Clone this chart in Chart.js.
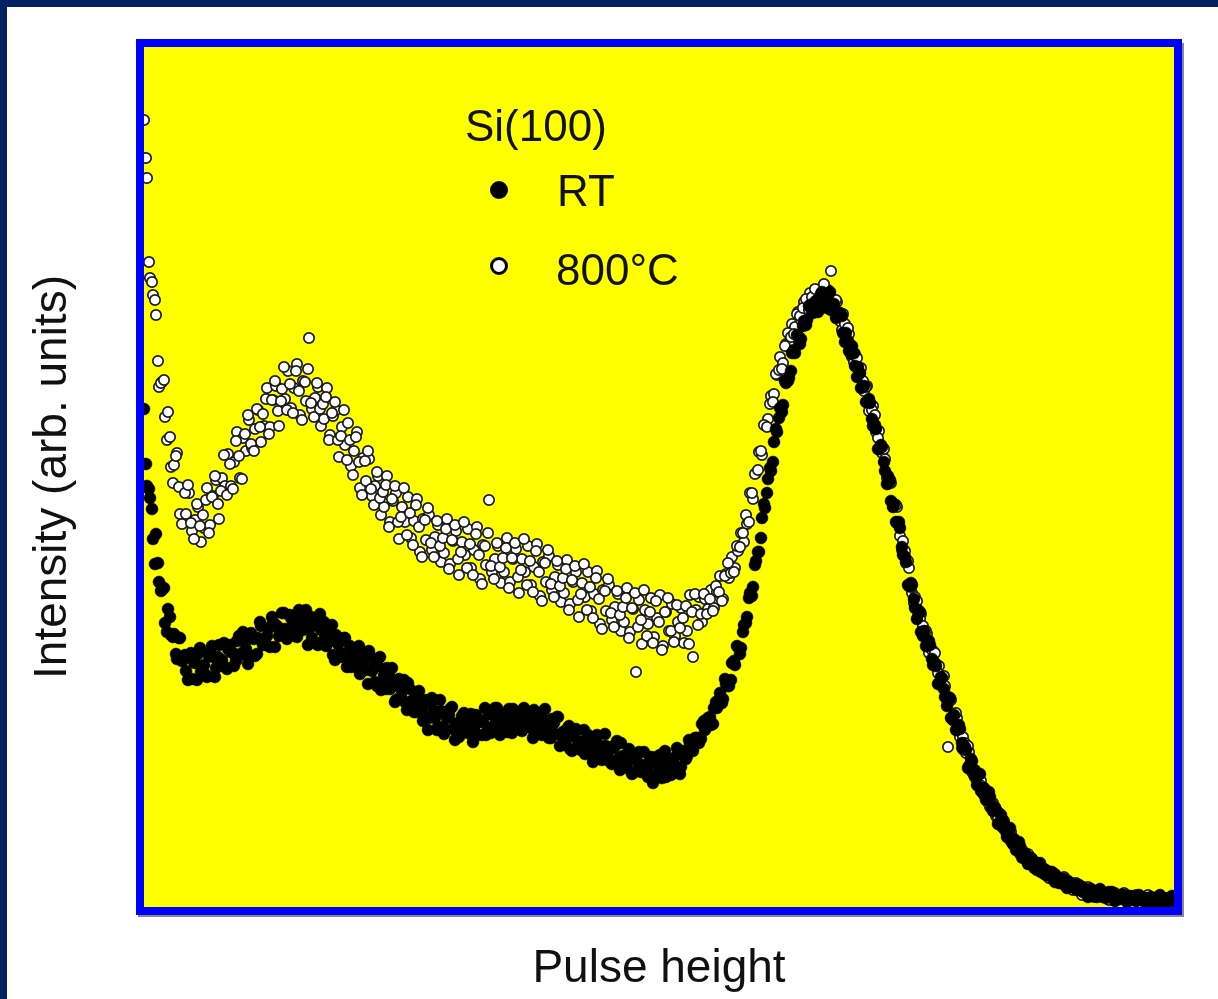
<!DOCTYPE html>
<html>
<head>
<meta charset="utf-8">
<script src="https://cdn.jsdelivr.net/npm/chart.js@4.4.1/dist/chart.umd.min.js"></script>
<style>
  html, body { margin: 0; padding: 0; background: #fff; overflow: hidden; }
  #wrap { position: relative; width: 1218px; height: 999px; }
</style>
</head>
<body>
<div id="wrap"><canvas id="chart" width="1218" height="999"></canvas></div>
<script>
// Pulse-height spectra of Si(100), RT vs 800 C.
// x = channel, y = intensity in arbitrary units (0 at the bottom of the frame).
// Two interleaved channel sets (A and B) so the noisy bands fill in like the original.
const channels = [
  0, 3, 6, 9, 12, 15, 18, 21, 24, 27, 30, 33, 36, 39, 42, 45, 48, 51, 54, 57,
  60, 63, 66, 69, 72, 75, 78, 81, 84, 87, 90, 93, 96, 99, 102, 105, 108, 111, 114, 117,
  120, 123, 126, 129, 132, 135, 138, 141, 144, 147, 150, 153, 156, 159, 162, 165, 168, 171, 174, 177,
  180, 183, 186, 189, 192, 195, 198, 201, 204, 207, 210, 213, 216, 219, 222, 225, 228, 231, 234, 237,
  240, 243, 246, 249, 252, 255, 258, 261, 264, 267, 270, 273, 276, 279, 282, 285, 288, 291, 294, 297,
  300, 303, 306, 309, 312, 315, 318, 321, 324, 327, 330, 333, 336, 339, 342, 345, 348, 351, 354, 357,
  360, 363, 366, 369, 372, 375, 378, 381, 384, 387, 390, 393, 396, 399, 402, 405, 408, 411, 414, 417,
  420, 423, 426, 429, 432, 435, 438, 441, 444, 447, 450, 453, 456, 459, 462, 465, 468, 471, 474, 477,
  480, 483, 486, 489, 492, 495, 498, 501, 504, 507, 510, 513, 516, 519, 522, 525, 528, 531, 534, 537,
  540, 543, 546, 549, 552, 555, 558, 561, 564, 567, 570, 573, 576, 579, 582, 585, 588, 591, 594, 597,
  600, 603, 606, 609, 612, 615, 618, 621, 624, 627, 630, 633, 636, 639, 642, 645, 648, 651, 654, 657,
  660, 663, 666, 669, 672, 675, 678, 681, 684, 687, 690, 693, 696, 699, 702, 705, 708, 711, 714, 717,
  720, 723, 726, 729, 732, 735, 738, 741, 744, 747, 750, 753, 756, 759, 762, 765, 768, 771, 774, 777,
  780, 783, 786, 789, 792, 795, 798, 801, 804, 807, 810, 813, 816, 819, 822, 825, 828, 831, 834, 837,
  840, 843, 846, 849, 852, 855, 858, 861, 864, 867, 870, 873, 876, 879, 882, 885, 888, 891, 894, 897,
  900, 903, 906, 909, 912, 915, 918, 921, 924, 927, 930, 933, 936, 939, 942, 945, 948, 951, 954, 957,
  960, 963, 966, 969, 972, 975, 978, 981, 984, 987, 990, 993, 996, 999, 1002, 1005, 1008, 1011, 1014, 1017,
  1020, 1023, 1026, 1029,
]

const channelsB = [
  2, 5, 8, 11, 14, 17, 20, 23, 26, 29, 32, 35, 38, 41, 44, 47, 50, 53, 56, 59,
  62, 65, 68, 71, 74, 77, 80, 83, 86, 89, 92, 95, 98, 101, 104, 107, 110, 113, 116, 119,
  122, 125, 128, 131, 134, 137, 140, 143, 146, 149, 152, 155, 158, 161, 164, 167, 170, 173, 176, 179,
  182, 185, 188, 191, 194, 197, 200, 203, 206, 209, 212, 215, 218, 221, 224, 227, 230, 233, 236, 239,
  242, 245, 248, 251, 254, 257, 260, 263, 266, 269, 272, 275, 278, 281, 284, 287, 290, 293, 296, 299,
  302, 305, 308, 311, 314, 317, 320, 323, 326, 329, 332, 335, 338, 341, 344, 347, 350, 353, 356, 359,
  362, 365, 368, 371, 374, 377, 380, 383, 386, 389, 392, 395, 398, 401, 404, 407, 410, 413, 416, 419,
  422, 425, 428, 431, 434, 437, 440, 443, 446, 449, 452, 455, 458, 461, 464, 467, 470, 473, 476, 479,
  482, 485, 488, 491, 494, 497, 500, 503, 506, 509, 512, 515, 518, 521, 524, 527, 530, 533, 536, 539,
  542, 545, 548, 551, 554, 557, 560, 563, 566, 569, 572, 575, 578, 581, 584, 587, 590, 593, 596, 599,
  602, 605, 608, 611, 614, 617, 620, 623, 626, 629, 632, 635, 638, 641, 644, 647, 650, 653, 656, 659,
  662, 665, 668, 671, 674, 677, 680, 683, 686, 689, 692, 695, 698, 701, 704, 707, 710, 713, 716, 719,
  722, 725, 728, 731, 734, 737, 740, 743, 746, 749, 752, 755, 758, 761, 764, 767, 770, 773, 776, 779,
  782, 785, 788, 791, 794, 797, 800, 803, 806, 809, 812, 815, 818, 821, 824, 827, 830, 833, 836, 839,
  842, 845, 848, 851, 854, 857, 860, 863, 866, 869, 872, 875, 878, 881, 884, 887, 890, 893, 896, 899,
  902, 905, 908, 911, 914, 917, 920, 923, 926, 929, 932, 935, 938, 941, 944, 947, 950, 953, 956, 959,
  962, 965, 968, 971, 974, 977, 980, 983, 986, 989, 992, 995, 998, 1001, 1004, 1007, 1010, 1013, 1016, 1019,
  1022, 1025, 1028,
]

const rtCounts = [
  498, 421, 409, 368, 373, 325, 317, 284, 298, 272, 273, 248, 269, 247, 236, 252, 228, 244, 253, 235,
  242, 230, 254, 250, 239, 262, 247, 240, 258, 255, 241, 266, 252, 275, 258, 252, 271, 251, 269, 281,
  264, 271, 260, 285, 282, 271, 294, 278, 271, 289, 285, 270, 293, 277, 297, 278, 269, 285, 262, 277,
  285, 263, 267, 252, 272, 265, 250, 269, 250, 240, 256, 250, 233, 254, 237, 256, 236, 225, 241, 217,
  232, 239, 218, 222, 207, 228, 220, 205, 224, 205, 195, 209, 203, 186, 207, 189, 209, 189, 180, 196,
  173, 189, 198, 178, 183, 170, 191, 185, 174, 193, 178, 172, 187, 185, 172, 193, 180, 199, 183, 177,
  193, 175, 190, 198, 182, 187, 176, 195, 190, 179, 197, 181, 174, 188, 183, 169, 188, 173, 190, 172,
  164, 178, 158, 172, 178, 161, 165, 153, 172, 166, 154, 172, 156, 148, 161, 157, 143, 162, 148, 164,
  147, 139, 154, 134, 148, 155, 138, 142, 130, 150, 144, 133, 152, 137, 130, 146, 144, 135, 153, 140,
  156, 151, 163, 156, 169, 164, 183, 177, 189, 182, 199, 199, 214, 208, 223, 221, 244, 242, 260, 259,
  282, 290, 314, 320, 346, 355, 389, 399, 428, 436, 465, 475, 499, 502, 524, 529, 554, 554, 571, 568,
  586, 587, 602, 594, 606, 600, 615, 604, 611, 597, 603, 591, 594, 574, 574, 556, 561, 541, 540, 519,
  521, 505, 504, 481, 478, 458, 460, 436, 431, 406, 403, 384, 379, 352, 345, 321, 322, 299, 297, 275,
  276, 261, 262, 242, 241, 224, 229, 210, 210, 189, 192, 177, 178, 158, 157, 141, 146, 130, 132, 116,
  119, 108, 110, 96, 97, 84, 88, 77, 79, 66, 68, 58, 61, 50, 52, 44, 48, 40, 43, 35,
  38, 32, 35, 28, 31, 24, 28, 22, 26, 20, 23, 17, 21, 15, 18, 13, 17, 12, 15, 11,
  14, 11, 13, 9, 11, 8, 12, 8, 11, 7, 10, 7, 10, 6, 9, 7, 9, 6, 8, 5,
  8, 6, 8, 6,
]

const rtCountsB = [
  443, 418, 398, 343, 344, 316, 319, 275, 290, 270, 253, 269, 246, 252, 227, 254, 245, 227, 259, 235,
  232, 251, 261, 230, 250, 244, 264, 238, 262, 254, 246, 271, 254, 265, 243, 274, 268, 253, 285, 262,
  262, 279, 290, 260, 280, 275, 294, 268, 292, 283, 274, 297, 278, 286, 262, 290, 282, 263, 293, 266,
  261, 275, 282, 247, 263, 254, 269, 240, 261, 250, 240, 261, 241, 248, 223, 250, 240, 221, 250, 223,
  218, 232, 239, 205, 221, 211, 227, 197, 218, 207, 195, 216, 196, 203, 177, 204, 196, 177, 207, 180,
  177, 192, 200, 167, 184, 177, 194, 178, 186, 165, 192, 185, 172, 199, 178, 174, 191, 199, 172, 188,
  182, 198, 174, 195, 187, 179, 199, 183, 191, 169, 194, 187, 172, 198, 174, 169, 184, 190, 161, 175,
  167, 181, 156, 176, 166, 157, 177, 160, 167, 145, 170, 162, 147, 173, 149, 144, 159, 166, 137, 151,
  143, 158, 133, 153, 144, 135, 155, 138, 146, 124, 150, 143, 129, 156, 135, 132, 149, 159, 133, 152,
  148, 167, 158, 169, 169, 168, 186, 181, 190, 183, 205, 207, 204, 228, 221, 227, 246, 261, 253, 275,
  284, 309, 311, 342, 355, 369, 403, 414, 439, 445, 478, 489, 495, 526, 526, 536, 557, 572, 563, 581,
  582, 601, 596, 605, 595, 613, 609, 599, 615, 597, 589, 593, 591, 565, 566, 553, 554, 530, 534, 520,
  505, 508, 488, 482, 458, 462, 445, 423, 427, 400, 385, 385, 360, 350, 322, 324, 308, 288, 295, 271,
  261, 266, 248, 244, 223, 230, 218, 201, 209, 187, 177, 182, 164, 160, 139, 148, 137, 122, 133, 114,
  107, 115, 100, 99, 83, 92, 83, 70, 79, 63, 57, 65, 52, 53, 43, 49, 44, 37, 44, 35,
  32, 35, 35, 25, 28, 24, 28, 19, 24, 21, 18, 22, 16, 17, 10, 18, 15, 10, 18, 10,
  9, 15, 15, 6, 10, 9, 12, 5, 11, 9, 6, 12, 7, 9, 3, 10, 8, 4, 12, 5,
  4, 9, 11,
]

const hotCounts = [
  787, 729, 629, 612, 592, 520, 525, 490, 495, 440, 442, 454, 393, 419, 393, 414, 376, 387, 400, 365,
  379, 419, 382, 411, 427, 388, 429, 421, 453, 421, 445, 475, 429, 469, 456, 487, 459, 478, 497, 465,
  481, 519, 480, 507, 521, 481, 518, 508, 536, 499, 519, 543, 492, 526, 506, 569, 498, 509, 520, 481,
  488, 519, 472, 491, 497, 450, 480, 462, 484, 441, 456, 475, 419, 449, 426, 448, 411, 421, 431, 392,
  400, 431, 385, 406, 414, 368, 400, 385, 410, 369, 386, 408, 355, 388, 367, 392, 357, 370, 382, 345,
  354, 388, 343, 366, 376, 332, 365, 352, 378, 339, 357, 380, 328, 362, 342, 407, 335, 348, 361, 324,
  335, 369, 325, 348, 358, 314, 348, 335, 361, 322, 340, 363, 311, 345, 325, 351, 317, 330, 342, 305,
  314, 347, 303, 325, 335, 290, 324, 310, 335, 296, 313, 336, 283, 317, 296, 322, 287, 300, 313, 276,
  285, 319, 275, 298, 235, 307, 263, 297, 283, 309, 270, 289, 312, 261, 295, 276, 303, 271, 285, 299,
  264, 276, 312, 250, 297, 310, 285, 308, 298, 317, 299, 315, 331, 308, 333, 329, 350, 339, 356, 374,
  365, 383, 414, 408, 434, 455, 452, 482, 488, 511, 513, 532, 550, 544, 563, 563, 583, 580, 595, 587,
  605, 602, 614, 603, 615, 608, 619, 606, 617, 636, 600, 605, 586, 593, 573, 573, 550, 553, 538, 539,
  516, 521, 498, 501, 475, 476, 454, 448, 423, 424, 402, 400, 371, 366, 344, 339, 314, 310, 291, 293,
  275, 273, 254, 256, 240, 241, 221, 221, 160, 207, 189, 189, 170, 170, 154, 155, 135, 137, 124, 126,
  112, 113, 100, 104, 91, 94, 80, 82, 70, 75, 62, 64, 53, 56, 48, 51, 42, 45, 38, 41,
  33, 36, 30, 33, 26, 29, 24, 27, 21, 24, 18, 21, 16, 20, 14, 17, 13, 16, 12, 15,
  10, 14, 9, 12, 9, 12, 8, 11, 8, 11, 7, 9, 7, 10, 6, 9, 6, 9, 6, 8,
  5, 8, 6, 8,
]

const hotCountsB = [
  749, 645, 625, 607, 546, 524, 527, 467, 470, 424, 451, 420, 383, 414, 422, 384, 368, 403, 381, 392,
  407, 374, 410, 431, 403, 416, 452, 412, 443, 418, 466, 451, 428, 473, 492, 463, 456, 498, 480, 493,
  508, 473, 507, 526, 496, 506, 540, 497, 523, 494, 536, 516, 487, 525, 538, 504, 490, 524, 498, 503,
  510, 467, 494, 505, 467, 471, 497, 447, 467, 432, 470, 445, 412, 446, 456, 418, 402, 435, 409, 415,
  422, 380, 408, 421, 385, 390, 419, 372, 394, 362, 402, 380, 350, 387, 399, 364, 350, 386, 361, 369,
  378, 338, 367, 382, 348, 355, 385, 339, 363, 332, 373, 352, 323, 361, 374, 341, 328, 364, 340, 349,
  359, 319, 349, 364, 330, 337, 368, 322, 346, 315, 356, 335, 306, 344, 357, 323, 310, 346, 321, 329,
  338, 297, 327, 341, 307, 313, 343, 297, 320, 289, 329, 308, 278, 316, 328, 294, 280, 316, 292, 300,
  309, 269, 299, 314, 280, 287, 317, 271, 295, 264, 306, 285, 257, 295, 309, 276, 265, 302, 279, 289,
  301, 263, 295, 313, 282, 293, 313, 293, 308, 296, 321, 315, 306, 331, 344, 334, 335, 361, 360, 374,
  392, 385, 414, 433, 437, 456, 482, 480, 503, 505, 533, 537, 538, 561, 574, 570, 573, 593, 591, 599,
  608, 597, 610, 618, 608, 612, 623, 606, 614, 599, 607, 594, 577, 583, 579, 558, 545, 549, 532, 526,
  520, 496, 497, 492, 469, 460, 458, 429, 425, 401, 402, 382, 357, 356, 346, 320, 304, 306, 288, 281,
  276, 254, 257, 254, 234, 228, 231, 207, 207, 188, 194, 179, 159, 164, 161, 142, 132, 132, 122, 119,
  114, 103, 103, 100, 89, 86, 86, 73, 73, 63, 66, 58, 49, 53, 53, 44, 39, 44, 38, 38,
  37, 29, 32, 33, 26, 26, 30, 20, 24, 17, 24, 18, 12, 18, 20, 13, 10, 16, 12, 13,
  14, 7, 12, 14, 8, 10, 14, 6, 11, 4, 12, 8, 3, 10, 12, 5, 3, 10, 6, 8,
  9, 3, 8,
]

const sampleName = 'Si(100)'
const seriesLabels = ['RT', '800°C']
const xTitle = 'Pulse height'
const yTitle = 'Intensity (arb. units)'
const xRange = [0, 1030]
const yRange = [0, 860]

const FONT = '"Liberation Sans", Arial, Helvetica, sans-serif'
const INK = '#111'

const toPoints = (xs, ys) => ys.map((y, i) => ({ x: xs[i], y }))

// slide background, yellow plot face, blue frame, in-plot legend, navy slide edge
const slide = {
  id: 'slide',
  beforeDraw(chart) {
    const { ctx, width, height, chartArea: a } = chart
    ctx.save()
    ctx.fillStyle = '#fff'
    ctx.fillRect(0, 0, width, height)
    ctx.fillStyle = '#ffff00'
    ctx.fillRect(a.left, a.top, a.right - a.left, a.bottom - a.top)
    ctx.restore()
  },
  afterDatasetsDraw(chart) {
    const { ctx, chartArea: a } = chart
    ctx.save()
    // faint drop shadow under the frame
    ctx.fillStyle = 'rgba(40,40,40,0.55)'
    ctx.fillRect(a.left - 6, a.bottom + 8, a.right - a.left + 14, 2)
    ctx.fillRect(a.right + 8, a.top - 4, 2, a.bottom - a.top + 14)
    ctx.strokeStyle = '#0000ff'
    ctx.lineWidth = 8
    ctx.strokeRect(a.left - 4, a.top - 4, a.right - a.left + 8, a.bottom - a.top + 8)

    // legend block
    ctx.fillStyle = INK
    ctx.font = `44px ${FONT}`
    ctx.textBaseline = 'alphabetic'
    ctx.fillText(sampleName, 465, 141)
    ctx.fillText(seriesLabels[0], 557, 206)
    ctx.fillText(seriesLabels[1], 556, 285)
    ctx.beginPath()
    ctx.arc(499, 190, 9, 0, Math.PI * 2)
    ctx.fillStyle = '#000'
    ctx.fill()
    ctx.beginPath()
    ctx.arc(499, 266, 7.5, 0, Math.PI * 2)
    ctx.fillStyle = '#fff'
    ctx.fill()
    ctx.lineWidth = 3
    ctx.strokeStyle = '#000'
    ctx.stroke()
    ctx.restore()
  },
  afterDraw(chart) {
    const { ctx, width, height } = chart
    ctx.save()
    ctx.fillStyle = '#022161'
    ctx.fillRect(0, 0, width, 7)
    ctx.fillRect(0, 0, 7, height)
    ctx.restore()
  },
}

const titleFont = { family: FONT, size: 46 }

new Chart(document.getElementById('chart'), {
  type: 'scatter',
  data: {
    datasets: [
      {
        label: seriesLabels[0],
        data: [...toPoints(channels, rtCounts), ...toPoints(channelsB, rtCountsB)],
        pointRadius: 6,
        pointBackgroundColor: '#000',
        pointBorderColor: '#000',
        pointBorderWidth: 0.5,
        order: 0,
      },
      {
        label: seriesLabels[1],
        data: [...toPoints(channels, hotCounts), ...toPoints(channelsB, hotCountsB)],
        pointRadius: 5.2,
        pointBackgroundColor: '#fff',
        pointBorderColor: '#1a1a1a',
        pointBorderWidth: 1.7,
        order: 1,
      },
    ],
  },
  options: {
    responsive: false,
    animation: false,
    events: [],
    layout: { padding: { left: 0, top: 47, right: 44, bottom: 0 } },
    scales: {
      x: {
        type: 'linear', min: xRange[0], max: xRange[1],
        grid: { display: false }, border: { display: false }, ticks: { display: false },
        title: { display: true, text: xTitle, color: INK, font: titleFont, padding: { top: 0, bottom: 2 } },
        afterFit: s => { s.height = 92 },
      },
      y: {
        type: 'linear', min: yRange[0], max: yRange[1],
        grid: { display: false }, border: { display: false }, ticks: { display: false },
        title: { display: true, text: yTitle, color: INK, font: titleFont, padding: { top: 26, bottom: 0 } },
        afterFit: s => { s.width = 144 },
      },
    },
    plugins: {
      legend: { display: false },
      tooltip: { enabled: false },
    },
  },
  plugins: [slide],
})
</script>
</body>
</html>
